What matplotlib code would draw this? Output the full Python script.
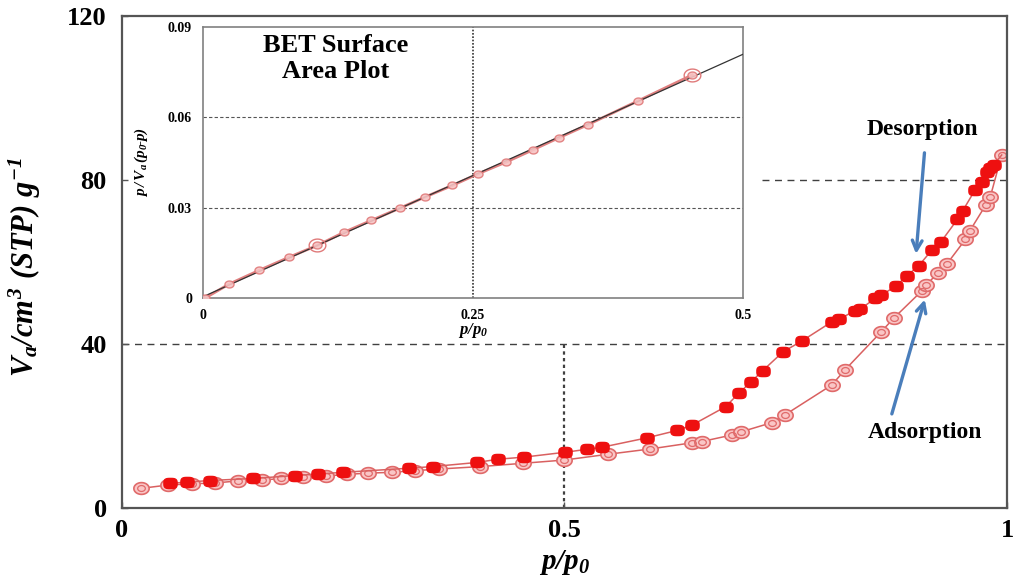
import numpy as np
import matplotlib
matplotlib.use("Agg")
import matplotlib.pyplot as plt
from matplotlib.path import Path

plt.rcParams["font.family"] = ["Liberation Serif", "DejaVu Serif"]
plt.rcParams["mathtext.fontset"] = "custom"
plt.rcParams["mathtext.rm"] = "Liberation Serif:bold:italic"
plt.rcParams["mathtext.it"] = "Liberation Serif:bold:italic"
plt.rcParams["mathtext.bf"] = "Liberation Serif:bold:italic"

# Nitrogen isotherm: relative pressure vs adsorbed volume
ads_p = [0.022, 0.052, 0.079, 0.105, 0.131, 0.158, 0.180, 0.205, 0.231, 0.254,
         0.278, 0.305, 0.331, 0.358, 0.405, 0.453, 0.500, 0.549, 0.597, 0.644,
         0.655, 0.689, 0.700, 0.734, 0.749, 0.802, 0.817, 0.858, 0.872, 0.904,
         0.909, 0.922, 0.932, 0.953, 0.958, 0.976, 0.981, 0.994]
ads_v = [4.8, 5.6, 5.9, 6.1, 6.6, 6.8, 7.2, 7.5, 7.8, 8.2,
         8.5, 8.7, 9.1, 9.5, 10.1, 10.9, 11.7, 13.1, 14.4, 15.9,
         16.2, 17.8, 18.6, 20.8, 22.7, 30.0, 33.7, 43.0, 46.3, 53.0,
         54.4, 57.4, 59.5, 65.5, 67.6, 73.9, 75.8, 86.1]

des_p = [0.994, 0.985, 0.981, 0.977, 0.972, 0.964, 0.950, 0.944, 0.925, 0.915,
         0.900, 0.887, 0.875, 0.858, 0.851, 0.834, 0.828, 0.810, 0.802, 0.768,
         0.747, 0.724, 0.711, 0.697, 0.682, 0.644, 0.627, 0.593, 0.542, 0.525,
         0.501, 0.454, 0.425, 0.401, 0.351, 0.324, 0.250, 0.222, 0.195, 0.148,
         0.099, 0.073, 0.054]
des_v = [86.1, 83.7, 82.9, 81.9, 79.4, 77.6, 72.5, 70.4, 64.8, 62.9,
         59.0, 56.7, 54.2, 51.9, 51.1, 48.5, 48.1, 46.0, 45.4, 40.7,
         38.1, 33.5, 30.8, 28.0, 24.7, 20.2, 18.9, 17.1, 14.8, 14.3,
         13.6, 12.4, 11.9, 11.1, 10.1, 9.7, 8.7, 8.3, 7.9, 7.2,
         6.7, 6.3, 6.0]

# BET transform p/[Va(p0-p)] vs p/p0
bet_p = [0.002, 0.024, 0.052, 0.080, 0.106, 0.131, 0.156, 0.182, 0.206, 0.231,
         0.255, 0.281, 0.306, 0.330, 0.356, 0.403, 0.453]
bet_y = [0.0, 0.0046, 0.0092, 0.0136, 0.0175, 0.0219, 0.0258, 0.0298, 0.0336, 0.0374,
         0.0413, 0.0452, 0.0493, 0.0533, 0.0575, 0.0655, 0.0741]
bet_big = [4, 16]

main_xticks = [0, 0.5, 1]
main_xlabels = ["0", "0.5", "1"]
main_yticks = [0, 40, 80, 120]
inset_xticks = [0, 0.25, 0.5]
inset_xlabels = ["0", "0.25", "0.5"]
inset_yticks = [0, 0.03, 0.06, 0.09]
inset_ylabels = ["0", "0.03", "0.06", "0.09"]


def blob(aspect, power):
    t = np.linspace(0, 2 * np.pi, 80)
    c, s = np.cos(t), np.sin(t)
    x = aspect * np.sign(c) * np.abs(c) ** (2.0 / power)
    y = np.sign(s) * np.abs(s) ** (2.0 / power)
    return Path(np.c_[x, y], closed=True)


filled_mk = blob(1.3, 3.2)
open_mk = blob(1.3, 2.0)

RED = "#ee1010"
PINK_FACE = "#fac6c6"
PINK_EDGE = "#e06a6a"
LINE = "#d96060"
GRID = "#404040"
ARROW = "#4a7ebb"

fig = plt.figure(figsize=(10.18, 5.77), dpi=100)
ax = fig.add_axes([0.1198, 0.1196, 0.8694, 0.8527])
ax.set_xlim(0, 1)
ax.set_ylim(0, 120)

# reference guides
ax.axhline(40, color=GRID, ls=(0, (5, 4)), lw=1.0, zorder=1)
ax.plot([0.723, 1.0], [80, 80], color=GRID, ls=(0, (5, 4)), lw=1.0, zorder=1)
ax.plot([0.5, 0.5], [0, 40], color=GRID, ls=(0, (1.5, 1.5)), lw=1.6, zorder=1)

# desorption branch (filled)
ax.plot(des_p, des_v, color=LINE, lw=1.1, marker=filled_mk, ms=9.5,
        mfc=RED, mec=RED, markevery=slice(1, None), zorder=3)
# adsorption branch (open)
ax.plot(ads_p, ads_v, color=LINE, lw=1.1, marker=open_mk, ms=11,
        mfc=PINK_FACE, mec=PINK_EDGE, mew=1.2, zorder=2)
ax.plot(ads_p, ads_v, ls="none", marker=open_mk, ms=5.5,
        mfc="none", mec=PINK_EDGE, mew=0.9, zorder=2)

ax.set_xticks(main_xticks)
ax.set_xticklabels(main_xlabels)
ax.set_yticks(main_yticks)
ax.tick_params(direction="in", length=4, width=1, colors="#555555",
               labelcolor="black", labelsize=19, pad=11)
ax.tick_params(axis="x", pad=8)
for lab in ax.get_xticklabels() + ax.get_yticklabels():
    lab.set_fontweight("bold")
for sp in ax.spines.values():
    sp.set_color("#555555")
    sp.set_linewidth(1.6)

ax.set_xlabel(r"$p/p_0$", fontsize=21)
ax.xaxis.set_label_coords(0.5, -0.082)
ax.set_ylabel(r"$V_a/cm^3\ (STP)\ g^{-1}$", fontsize=22)
ax.yaxis.set_label_coords(-0.089, 0.49)

# branch annotations
ax.annotate("", xy=(0.897, 61.3), xytext=(0.907, 87.3),
            arrowprops=dict(arrowstyle="->,head_length=0.7,head_width=0.35",
                            color=ARROW, lw=2.4), zorder=5)
ax.annotate("", xy=(0.908, 51.5), xytext=(0.869, 22.3),
            arrowprops=dict(arrowstyle="->,head_length=0.7,head_width=0.35",
                            color=ARROW, lw=2.4), zorder=5)
ax.text(0.904, 92.2, "Desorption", ha="center", va="center",
        fontsize=17, fontweight="bold")
ax.text(0.907, 18.5, "Adsorption", ha="center", va="center",
        fontsize=17, fontweight="bold")

# BET inset
ins = fig.add_axes([0.1994, 0.4835, 0.5305, 0.4697])
ins.set_xlim(0, 0.5)
ins.set_ylim(0, 0.09)
for yv in inset_yticks[1:3]:
    ins.axhline(yv, color="#555555", ls=(0, (3, 2)), lw=0.8, zorder=1)
ins.axvline(0.25, color="#333333", ls=(0, (1, 1)), lw=1.2, zorder=1)

fit = np.polyfit(bet_p, bet_y, 1)
fx = np.array([0.0, 0.5])
ins.plot(bet_p, bet_y, color="#e08080", lw=2.0, zorder=2)
ins.plot(fx, np.polyval(fit, fx), color="#333333", lw=0.9, zorder=3)
ins.plot(bet_p, bet_y, ls="none", marker=open_mk, ms=6.5,
         mfc="#f7c4c4", mec="#e07a7a", mew=1.0, alpha=0.9, zorder=4)
big_p = [bet_p[i] for i in bet_big]
big_y = [bet_y[i] for i in bet_big]
ins.plot(big_p, big_y, ls="none", marker=open_mk, ms=12,
         mfc="none", mec="#e07a7a", mew=1.0, zorder=4)

ins.set_xticks(inset_xticks)
ins.set_xticklabels(inset_xlabels)
ins.set_yticks(inset_yticks)
ins.set_yticklabels(inset_ylabels)
ins.tick_params(length=0, labelsize=10, pad=8)
for lab in ins.get_xticklabels() + ins.get_yticklabels():
    lab.set_fontweight("bold")
for sp in ins.spines.values():
    sp.set_color("#808080")
    sp.set_linewidth(1.2)
ins.set_xlabel(r"$p/p_0$", fontsize=12)
ins.xaxis.set_label_coords(0.5, -0.085)
ins.set_ylabel(r"$p\,/\,V_a\,(p_0\!\text{-}p)$", fontsize=11)
ins.yaxis.set_label_coords(-0.098, 0.5)
ins.text(0.245, 0.975, "BET Surface\nArea Plot", transform=ins.transAxes,
         ha="center", va="top", fontsize=19, fontweight="bold", linespacing=1.2)

fig.savefig("out.png", dpi=100)
